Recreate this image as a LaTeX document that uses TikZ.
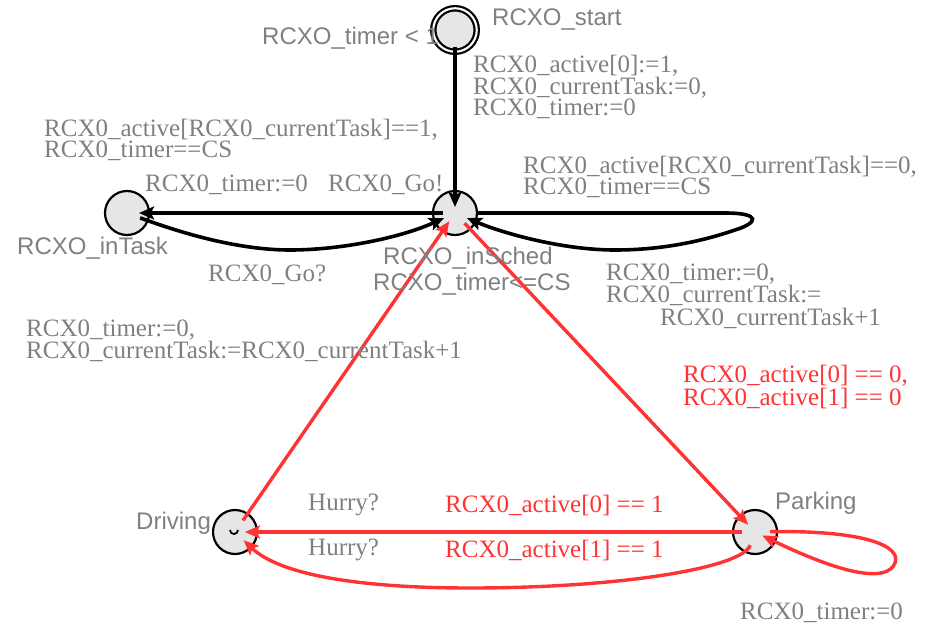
\documentclass[tikz,border=0pt]{standalone}
\usepackage{fontspec}
\setmainfont{Liberation Serif}
\newfontfamily\locsans{Liberation Sans}
\usetikzlibrary{arrows.meta}

\definecolor{labgray}{RGB}{128,128,128}
\definecolor{uppred}{RGB}{255,51,51}
\definecolor{locfill}{RGB}{230,230,230}

\tikzset{
  loc/.style={circle, draw=black, line width=2.2pt, fill=locfill, minimum size=44pt, inner sep=0pt},
  initloc/.style={loc, double=white, double distance=2.1pt, minimum size=43.5pt},
  serifl/.style={inner sep=0pt, anchor=west, align=left, text=labgray, font={\fontsize{25}{19.5}\selectfont}},
  redl/.style={serifl, text=uppred},
  sansl/.style={inner sep=0pt, anchor=west, text=labgray, font={\locsans\fontsize{24}{26}\selectfont}},
  tip/.tip={Stealth[length=15pt, width=13pt, inset=3pt]},
  blkedge/.style={line width=3.6pt, black, -tip},
  rededge/.style={line width=3.4pt, uppred, -tip},
}

\begin{document}
\begin{tikzpicture}[x=1pt, y=-1pt]
\path[use as bounding box] (0,0) rectangle (936,626);

% locations
\node[initloc] (start)   at (455,30)  {};
\node[loc]     (inSched) at (455,213) {};
\node[loc]     (inTask)  at (127,213) {};
\node[loc]     (driving) at (235,532) {};
\node[loc]     (parking) at (755,532) {};
% urgent mark
\draw[line width=1.8pt] (230,530) arc[start angle=180, end angle=0, radius=4];

% nails of the curved transitions
\coordinate (goNail)   at (290,250);
\coordinate (loopNail) at (615,250);
\coordinate (hurryNail) at (470,588);

% black transitions
\draw[blkedge, shorten <=17pt, shorten >=6pt] (start.center) -- (inSched.center);
\draw[blkedge, shorten <=12pt, shorten >=12pt] (inSched.center) -- (inTask.center);
\draw[blkedge, shorten <=14pt, shorten >=12pt] (inTask.center)
  .. controls (200,240) and (250,250) .. (goNail)
  .. controls (340,250) and (400,238) .. (inSched.center);
\draw[blkedge, shorten <=23pt, shorten >=13pt] (inSched.center) -- (725,213)
  .. controls (762,213) and (758,223) .. (735,230)
  .. controls (700,242) and (660,250) .. (loopNail)
  .. controls (560,250) and (500,232) .. (inSched.center);

% red transitions
\draw[rededge, shorten <=14pt, shorten >=10pt] (driving.center) -- (inSched.center);
\draw[rededge, shorten <=14pt, shorten >=10pt] (inSched.center) -- (parking.center);
\draw[rededge, shorten <=13pt, shorten >=10pt] (parking.center) -- (driving.center);
\draw[rededge, shorten <=14pt, shorten >=12pt] (parking.center)
  .. controls (742,568) and (620,588) .. (hurryNail)
  .. controls (360,588) and (280,575) .. (driving.center);
\draw[rededge, shorten <=15pt, shorten >=8pt] (parking.center)
  .. controls (860,530) and (902,545) .. (895,563)
  .. controls (888,581) and (850,578) .. (parking.center);

% location names and invariants
\node[sansl] (nStart)   at (492,20)  {RCXO\_start};
\node[sansl] (invStart) at (262,38) {RCXO\_timer < 1};
\node[sansl] (nInTask)  at (17,248)  {RCXO\_inTask};
\node[sansl] (nInSched) at (383,258) {RCXO\_inSched};
\node[sansl] (invSched) at (373,284) {RCXO\_timer<=CS};
\node[sansl] (nDriving) at (136,523) {Driving};
\node[sansl] (nParking) at (775,503) {Parking};

% transition labels
\node[serifl] (updStart) at (473,87) {RCX0\_active[0]:=1,\\RCX0\_currentTask:=0,\\RCX0\_timer:=0};
\node[serifl] (grdTask)  at (44,140) {RCX0\_active[RCX0\_currentTask]==1,\\RCX0\_timer==CS};
\node[serifl] (updTask)  at (145,185) {RCX0\_timer:=0};
\node[serifl] (syncGoB)  at (328,185) {RCX0\_Go!};
\node[serifl] (syncGoQ)  at (208,275) {RCX0\_Go?};
\node[serifl] (grdLoop)  at (523,177) {RCX0\_active[RCX0\_currentTask]==0,\\RCX0\_timer==CS};
\node[serifl] (updLoop)  at (606,285) {RCX0\_timer:=0,\\RCX0\_currentTask:=};
\node[serifl] (updLoopB) at (660,318) {RCX0\_currentTask+1};
\node[serifl] (updDrive) at (26,341) {RCX0\_timer:=0,\\RCX0\_currentTask:=RCX0\_currentTask+1};
\node[redl]   (grdPark)  at (683,387) {RCX0\_active[0] == 0,\\RCX0\_active[1] == 0};
\node[serifl] (syncH1)   at (308,505) {Hurry?};
\node[redl]   (grdH1)    at (445,505) {RCX0\_active[0] == 1};
\node[serifl] (syncH2)   at (308,550) {Hurry?};
\node[redl]   (grdH2)    at (445,550) {RCX0\_active[1] == 1};
\node[serifl] (updPark)  at (740,613) {RCX0\_timer:=0};
\end{tikzpicture}
\end{document}
